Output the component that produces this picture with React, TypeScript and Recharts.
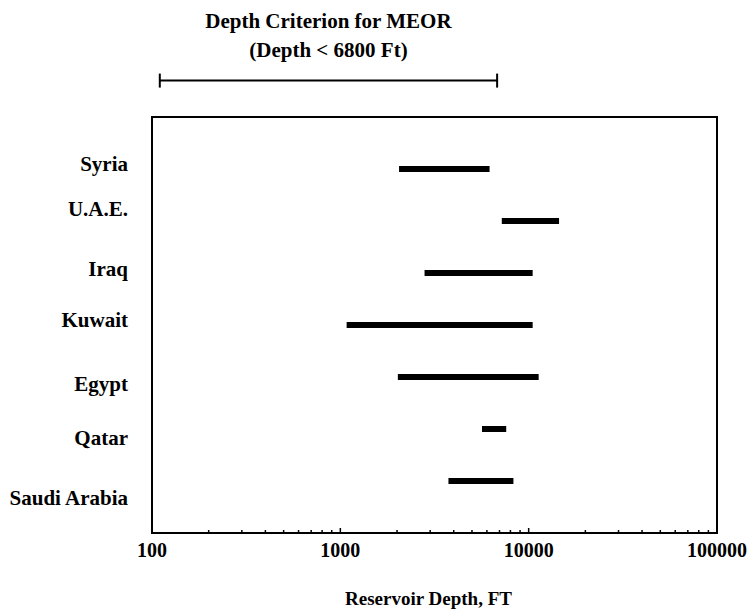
import {
  ComposedChart,
  Bar,
  XAxis,
  YAxis,
  ReferenceLine,
  ReferenceArea,
} from 'recharts';

const countries = ['Syria', 'U.A.E.', 'Iraq', 'Kuwait', 'Egypt', 'Qatar', 'Saudi Arabia'];
const minDepth = [2050, 7200, 2800, 1080, 2020, 5650, 3750];
const maxDepth = [6200, 14500, 10500, 10500, 11300, 7600, 8300];
const majorTicks = [100, 1000, 10000, 100000];
const minorTicks = [
  200, 300, 400, 500, 600, 700, 800, 900,
  2000, 3000, 4000, 5000, 6000, 7000, 8000, 9000,
  20000, 30000, 40000, 50000, 60000, 70000, 80000, 90000,
];
const criterionRange = [110, 6800];
const criterionTitle = ['Depth Criterion for MEOR', '(Depth < 6800 Ft)'];

// the scanned labels don't sit exactly on their bars
const labelNudge = [-5, -12, -4, -5, 7, 9, 17];

const data = countries.map((c, i) => ({
  country: c,
  pos: i + 1,
  range: [minDepth[i], maxDepth[i]],
}));

const FONT = '"Liberation Serif", "Times New Roman", serif';

// line with end caps + two title lines above it
function CriterionShape(props: any) {
  const { x1, y1, x2 } = props;
  const cx = (x1 + x2) / 2;
  return (
    <g>
      <line x1={x1} y1={y1} x2={x2} y2={y1} stroke="#000" strokeWidth={2} />
      <line x1={x1} y1={y1 - 7} x2={x1} y2={y1 + 7} stroke="#000" strokeWidth={2} />
      <line x1={x2} y1={y1 - 7} x2={x2} y2={y1 + 7} stroke="#000" strokeWidth={2} />
      <text x={cx} y={y1 - 53} textAnchor="middle" fontFamily={FONT} fontWeight="bold" fontSize={21} fill="#000">
        {criterionTitle[0]}
      </text>
      <text x={cx} y={y1 - 24} textAnchor="middle" fontFamily={FONT} fontWeight="bold" fontSize={21} fill="#000">
        {criterionTitle[1]}
      </text>
    </g>
  );
}

function XTick(props: any) {
  const { x, y, payload } = props;
  const v = payload.value;
  const major = majorTicks.includes(v);
  return (
    <g>
      <line x1={x} y1={y} x2={x} y2={y - (major ? 5 : 3)} stroke="#000" strokeWidth={1.5} />
      {major && (
        <text x={x} y={y + 24} textAnchor="middle" fontFamily={FONT} fontWeight="bold" fontSize={20} fill="#000">
          {v}
        </text>
      )}
    </g>
  );
}

function YTick(props: any) {
  const { x, y, payload } = props;
  const i = payload.value - 1;
  return (
    <text
      x={x}
      y={y + (labelNudge[i] ?? 0)}
      dy="0.35em"
      textAnchor="end"
      fontFamily={FONT}
      fontWeight="bold"
      fontSize={21}
      fill="#000"
    >
      {countries[i]}
    </text>
  );
}

export default function App() {
  return (
    <div style={{ position: 'absolute', left: 0, top: 0, fontFamily: FONT }}>
      <ComposedChart
        layout="vertical"
        width={748}
        height={612}
        data={data}
        margin={{ top: 117, right: 31, bottom: 0, left: 0 }}
      >
        <XAxis
          type="number"
          dataKey="range"
          scale="log"
          domain={[100, 100000]}
          ticks={[...majorTicks, ...minorTicks]}
          interval={0}
          allowDataOverflow
          height={79}
          tickLine={false}
          tickSize={0}
          tickMargin={0}
          axisLine={{ stroke: '#000', strokeWidth: 2 }}
          tick={XTick}
          label={{
            value: 'Reservoir Depth, FT',
            position: 'insideBottom',
            offset: 7,
            dx: -6,
            fill: '#000',
            fontSize: 19,
            fontWeight: 'bold',
            fontFamily: FONT,
          }}
        />
        <YAxis
          type="number"
          dataKey="pos"
          domain={[0, 8]}
          ticks={[1, 2, 3, 4, 5, 6, 7]}
          interval={0}
          width={152}
          tickLine={false}
          tickSize={0}
          tickMargin={24}
          axisLine={{ stroke: '#000', strokeWidth: 2 }}
          tick={YTick}
        />
        <ReferenceArea
          x1={100}
          x2={100000}
          y1={0}
          y2={8}
          fill="none"
          fillOpacity={0}
          stroke="#000"
          strokeWidth={2}
          ifOverflow="visible"
        />
        <Bar dataKey="range" fill="#000" barSize={6} isAnimationActive={false} />
        <ReferenceLine
          segment={[
            { x: criterionRange[0], y: -0.7 },
            { x: criterionRange[1], y: -0.7 },
          ]}
          ifOverflow="visible"
          shape={CriterionShape}
        />
      </ComposedChart>
    </div>
  );
}
